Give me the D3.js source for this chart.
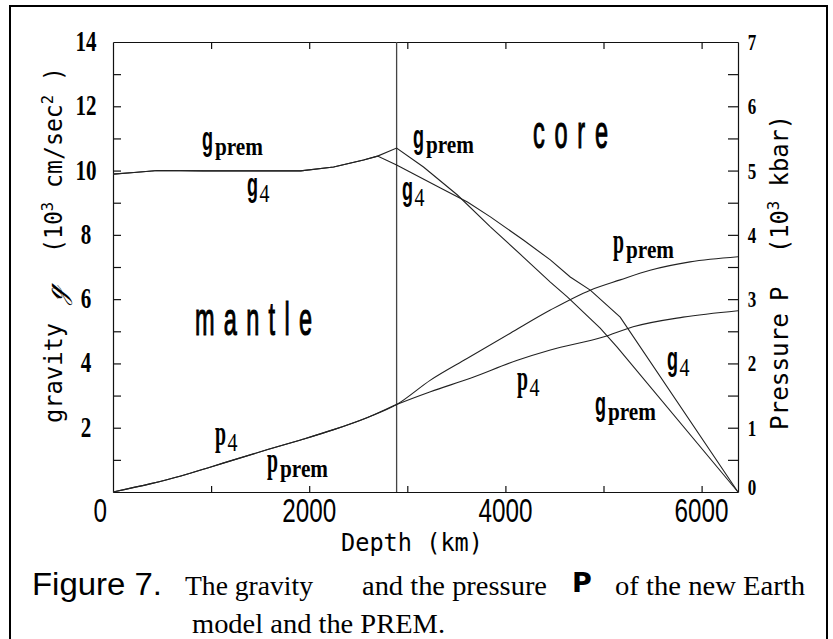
<!DOCTYPE html>
<html>
<head>
<meta charset="utf-8">
<script src="https://cdn.jsdelivr.net/npm/d3@7/dist/d3.min.js"></script>
<style>
  body { margin: 0; background: #fff; }
  svg { display: block; }
</style>
</head>
<body>
<script>
// ---- data (depth in km) ----
// gravity, 10^3 cm/sec^2
const gPremDepth = [0, 214, 458, 926, 1913, 2249, 2554, 2697, 2891, 3165, 3511, 3847, 4183, 4458, 4631, 4966, 5139, 6371];
const gPremVal   = [9.89, 9.94, 10.00, 9.99, 9.99, 10.11, 10.33, 10.45, 10.70, 10.11, 9.24, 8.25, 7.31, 6.53, 6.07, 5.10, 4.51, 0];
const g4Depth    = [0, 214, 458, 926, 1913, 2249, 2554, 2697, 2891, 3338, 3613, 3847, 4183, 4458, 4661, 4865, 5170, 6371];
const g4Val      = [9.89, 9.94, 10.00, 9.99, 9.99, 10.11, 10.33, 10.45, 10.17, 9.46, 9.02, 8.56, 7.84, 7.22, 6.69, 6.28, 5.44, 0];
// pressure, 10^3 kbar
const pPremDepth = [0, 387, 692, 997, 1231, 1577, 1913, 2249, 2595, 2891, 3236, 3613, 4050, 4458, 4865, 5170, 5475, 5882, 6371];
const pPremVal   = [0, 0.13, 0.25, 0.39, 0.50, 0.66, 0.81, 0.97, 1.16, 1.36, 1.74, 2.08, 2.47, 2.83, 3.14, 3.30, 3.45, 3.58, 3.66];
const p4Depth    = [0, 387, 692, 997, 1231, 1577, 1913, 2249, 2595, 2891, 3236, 3643, 4122, 4458, 4997, 5302, 5811, 6371];
const p4Val      = [0, 0.13, 0.25, 0.39, 0.50, 0.66, 0.81, 0.97, 1.16, 1.36, 1.56, 1.77, 2.05, 2.21, 2.41, 2.57, 2.72, 2.82];

const cmbDepth = 2891;
const xTicks = [0, 2000, 4000, 6000];
const gTicks = [2, 4, 6, 8, 10, 12, 14];
const pTicks = [0, 1, 2, 3, 4, 5, 6, 7];

// curve labels, placed in data units
const curveLabels = [
  {main: 'g', sub: 'prem', depth: 907,  v: 10.64, axis: 'g'},
  {main: 'g', sub: '4',    depth: 1366, v: 9.21,  axis: 'g'},
  {main: 'g', sub: 'prem', depth: 3058, v: 10.70, axis: 'g'},
  {main: 'g', sub: '4',    depth: 2946, v: 9.09,  axis: 'g'},
  {main: 'g', sub: '4',    depth: 5647, v: 3.80,  axis: 'g'},
  {main: 'g', sub: 'prem', depth: 4913, v: 2.40,  axis: 'g'},
  {main: 'p', sub: 'prem', depth: 5097, v: 3.72,  axis: 'p'},
  {main: 'p', sub: '4',    depth: 4118, v: 1.59,  axis: 'p'},
  {main: 'p', sub: '4',    depth: 1040, v: 0.73,  axis: 'p'},
  {main: 'p', sub: 'prem', depth: 1570, v: 0.31,  axis: 'p'}
];

const W = 833, H = 639;
const svg = d3.select('body').append('svg').attr('width', W).attr('height', H);

const x  = d3.scaleLinear().domain([0, 6371]).range([113, 738]);
const yg = d3.scaleLinear().domain([0, 14]).range([492, 42]);
const yp = d3.scaleLinear().domain([0, 7]).range([492, 42]);

// outer frame
svg.append('rect').attr('x', 10).attr('y', 6).attr('width', 817).attr('height', 650)
  .attr('fill', 'none').attr('stroke', '#000').attr('stroke-width', 2);

// axes: ticks point inward, no labels (labels drawn below)
const noLabel = () => '';
svg.append('g').attr('transform', 'translate(0,492)')
  .call(d3.axisBottom(x).tickValues(d3.range(1000, 6371, 1000)).tickSizeInner(-6).tickSizeOuter(0).tickFormat(noLabel));
svg.append('g').attr('transform', 'translate(0,42)')
  .call(d3.axisTop(x).tickValues(d3.range(1000, 6371, 1000)).tickSizeInner(-7).tickSizeOuter(0).tickFormat(noLabel));
svg.append('g').attr('transform', `translate(${x(0)},0)`)
  .call(d3.axisLeft(yg).tickValues(d3.range(1, 14)).tickSizeInner(-8).tickSizeOuter(0).tickFormat(noLabel));
svg.append('g').attr('transform', `translate(${x(6371)},0)`)
  .call(d3.axisRight(yp).tickValues(d3.range(0.5, 7, 0.5)).tickSizeInner(-10).tickSizeOuter(0).tickFormat(noLabel));
svg.selectAll('.domain, .tick line').attr('stroke', '#111').attr('stroke-width', 1.2);

// core-mantle boundary
svg.append('line')
  .attr('x1', x(cmbDepth)).attr('x2', x(cmbDepth))
  .attr('y1', yg(14)).attr('y2', yg(0))
  .attr('stroke', '#444').attr('stroke-width', 1.3);

// curves
const lineG = d3.line().x(d => x(d[0])).y(d => yg(d[1]));
const lineP = d3.line().x(d => x(d[0])).y(d => yp(d[1])).curve(d3.curveMonotoneX);
const zip = (a, b) => a.map((d, i) => [d, b[i]]);

[[lineG, zip(gPremDepth, gPremVal)], [lineG, zip(g4Depth, g4Val)],
 [lineP, zip(pPremDepth, pPremVal)], [lineP, zip(p4Depth, p4Val)]].forEach(([ln, pts]) => {
  svg.append('path').attr('d', ln(pts))
    .attr('fill', 'none').attr('stroke', '#222').attr('stroke-width', 1.1);
});

// tick labels
const serif = "'Liberation Serif', 'Times New Roman', serif";
const sans = "'Liberation Sans', Arial, sans-serif";
const mono = "'DejaVu Sans Mono', monospace";

svg.selectAll('.xl').data(xTicks).enter().append('text')
  .attr('x', d => d === 0 ? x(d) - 6 : x(d))
  .attr('y', 522)
  .attr('text-anchor', d => d === 0 ? 'end' : 'middle')
  .attr('font-family', sans).attr('font-size', 33)
  .attr('textLength', d => String(d).length * 13.5).attr('lengthAdjust', 'spacingAndGlyphs')
  .text(d => d);

svg.selectAll('.gl').data(gTicks).enter().append('text')
  .attr('x', 86).attr('y', d => yg(d) + 9)
  .attr('text-anchor', 'middle')
  .attr('font-family', serif).attr('font-weight', 'bold').attr('font-size', 29)
  .attr('textLength', d => String(d).length * 10.5).attr('lengthAdjust', 'spacingAndGlyphs')
  .text(d => d);

svg.selectAll('.pl').data(pTicks).enter().append('text')
  .attr('x', 752).attr('y', d => yp(d) + (d === 0 ? 3 : 8))
  .attr('text-anchor', 'middle')
  .attr('font-family', serif).attr('font-weight', 'bold').attr('font-size', 24)
  .attr('textLength', 8.5).attr('lengthAdjust', 'spacingAndGlyphs')
  .text(d => d);

// axis titles
svg.append('text').attr('x', 341).attr('y', 551)
  .attr('font-family', mono).attr('font-size', 24)
  .attr('textLength', 142).attr('lengthAdjust', 'spacingAndGlyphs')
  .text('Depth (km)');

function vtext(px, py, len) {
  const t = svg.append('text').attr('transform', `translate(${px},${py}) rotate(-90)`)
    .attr('font-family', mono).attr('font-size', 24);
  if (len) t.attr('textLength', len).attr('lengthAdjust', 'spacingAndGlyphs');
  return t;
}
vtext(62, 423, 100).text('gravity');
vtext(62, 301).attr('font-family', "'DejaVu Serif', serif").attr('font-style', 'italic').attr('font-size', 26).text('ℊ');
const gUnit = vtext(62, 253, 186);
gUnit.append('tspan').text('(10');
gUnit.append('tspan').attr('dy', -9).attr('font-size', 16).text('3');
gUnit.append('tspan').attr('dy', 9).text(' cm/sec');
gUnit.append('tspan').attr('dy', -9).attr('font-size', 16).text('2');
gUnit.append('tspan').attr('dy', 9).text(' )');

vtext(788, 430, 117).text('Pressure');
vtext(788, 301).text('P');
const pUnit = vtext(788, 253, 138);
pUnit.append('tspan').text('(10');
pUnit.append('tspan').attr('dy', -9).attr('font-size', 16).text('3');
pUnit.append('tspan').attr('dy', 9).text(' kbar)');

// region names: narrow glyphs, wide spacing
function region(txt, px, py, len) {
  const s = 0.5;
  svg.append('text').attr('transform', `translate(${px},${py}) scale(${s},1)`)
    .attr('font-family', sans).attr('font-size', 47).attr('stroke', '#000').attr('stroke-width', 1.2)
    .attr('textLength', len / s).attr('lengthAdjust', 'spacing')
    .text(txt);
}
region('core', 533, 148, 75);
region('mantle', 195, 335, 117);

// curve labels
curveLabels.forEach(l => {
  const px = x(l.depth);
  const py = l.axis === 'g' ? yg(l.v) : yp(l.v);
  svg.append('text').attr('x', px).attr('y', py)
    .attr('font-family', l.main === 'g' ? sans : serif).attr('font-weight', 'bold')
    .attr('font-size', l.main === 'g' ? 34 : 36)
    .attr('textLength', 11).attr('lengthAdjust', 'spacingAndGlyphs')
    .text(l.main);
  if (l.sub === 'prem') {
    svg.append('text').attr('x', px + 13).attr('y', py + 5)
      .attr('font-family', serif).attr('font-weight', 'bold').attr('font-size', 26)
      .attr('textLength', 48).attr('lengthAdjust', 'spacingAndGlyphs')
      .text('prem');
  } else {
    svg.append('text').attr('x', px + 12.5).attr('y', py + 6)
      .attr('font-family', serif).attr('font-size', 25)
      .attr('textLength', 10).attr('lengthAdjust', 'spacingAndGlyphs')
      .text(l.sub);
  }
});

// caption
function cap(txt, px, py, len, fam, size, weight) {
  const t = svg.append('text').attr('x', px).attr('y', py)
    .attr('font-family', fam).attr('font-size', size).attr('font-weight', weight || 'normal')
    .text(txt);
  if (len) t.attr('textLength', len).attr('lengthAdjust', 'spacingAndGlyphs');
}
cap('Figure 7.', 32, 595, 130, sans, 31);
cap('The gravity', 185, 595, 128, serif, 27);
cap('and the pressure', 362, 595, 185, serif, 27);
cap('P', 572, 592, null, "'DejaVu Sans', sans-serif", 27, 'bold');
cap('of the new Earth', 615, 595, 190, serif, 27);
cap('model and the PREM.', 192, 633, 253, serif, 27);
</script>
</body>
</html>
